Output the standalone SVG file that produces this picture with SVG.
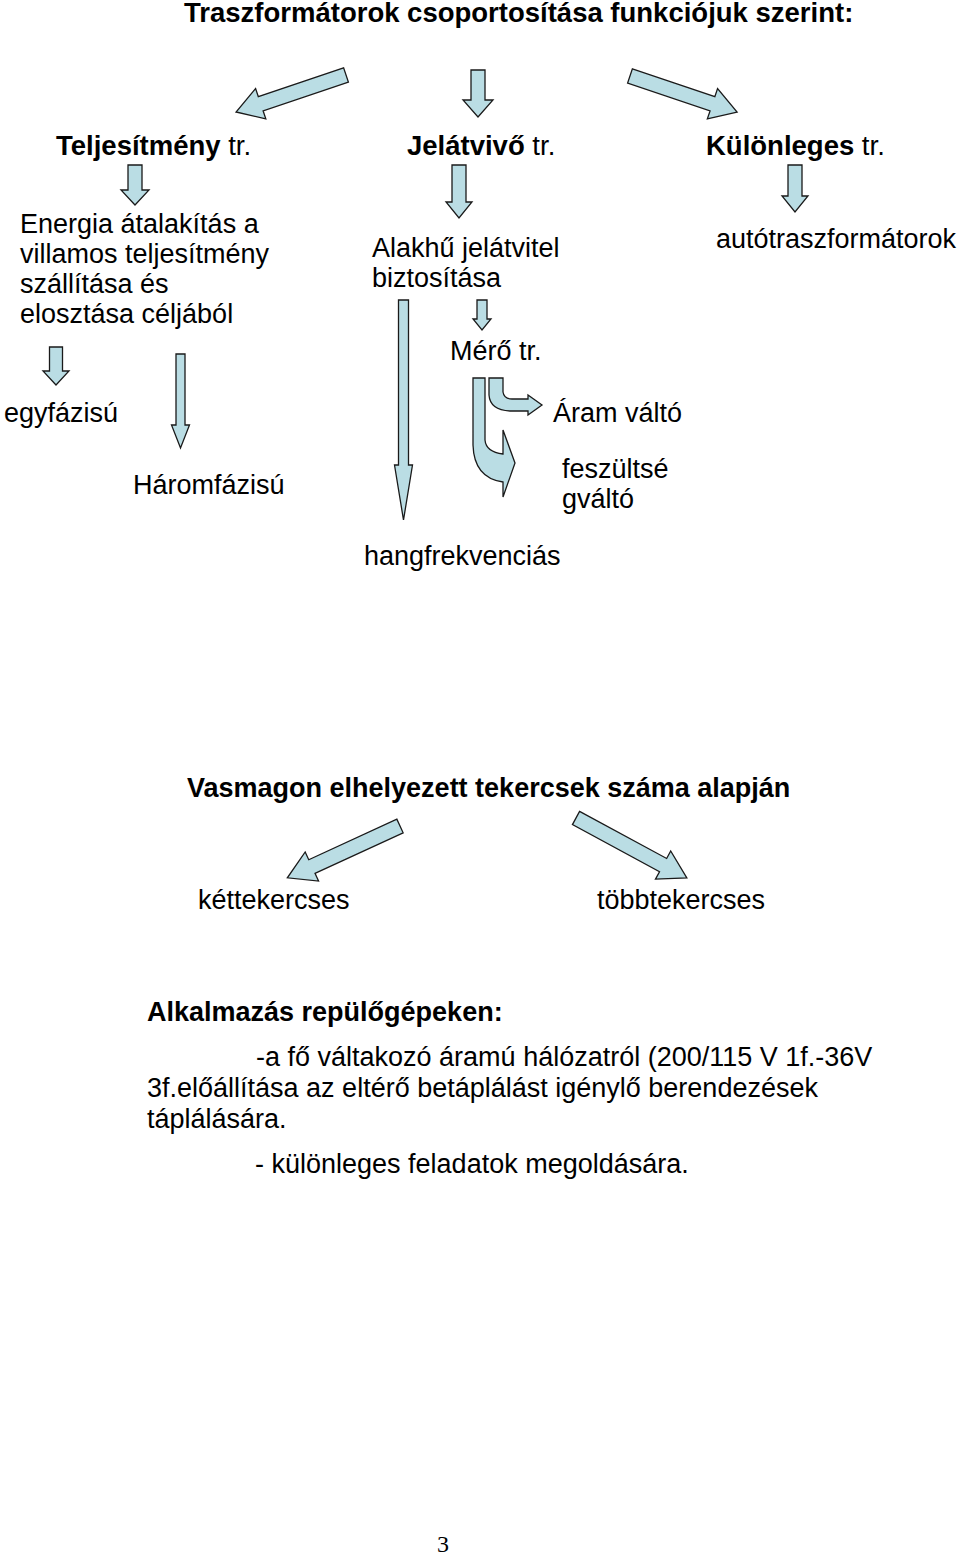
<svg xmlns="http://www.w3.org/2000/svg" width="960" height="1555" viewBox="0 0 960 1555">
<style>
text{font-family:"Liberation Sans",Arial,sans-serif;font-size:27px;fill:#000}
.b{font-weight:bold}
.L{font-size:27.5px}
.arr{fill:#BADDE4;stroke:#1a1a1a;stroke-width:1.3;stroke-linejoin:miter}
.pg{font-family:"Liberation Serif","Times New Roman",serif;font-size:24px}
</style>
<rect width="960" height="1555" fill="#fff"/>
<g id="connectors">
  <polygon class="arr" transform="translate(346,75) rotate(161.4)" points="0,-7.5 90,-7.5 90,-16 116,0 90,16 90,7.5 0,7.5"/>
  <polygon class="arr" points="471,70 485,70 485,100 493,100 478,117 463,100 471,100"/>
  <polygon class="arr" transform="translate(630,76) rotate(18.6)" points="0,-7.5 87,-7.5 87,-16 113,0 87,16 87,7.5 0,7.5"/>
  <polygon class="arr" points="128,165 142,165 142,190 149,190 135,205 121,190 128,190"/>
  <polygon class="arr" points="452,165 466,165 466,202 472,202 459,218 446,202 452,202"/>
  <polygon class="arr" points="788,165 802,165 802,196 808,196 795,212 782,196 788,196"/>
  <polygon class="arr" points="477,300 487,300 487,319 491,319 482,330 473,319 477,319"/>
  <polygon class="arr" points="49.5,347 62.5,347 62.5,371 69,371 56,385 43,371 49.5,371"/>
  <polygon class="arr" points="176,354 185,354 185,425 189.5,425 180.5,448 171.5,425 176,425"/>
  <polygon class="arr" points="398.5,300 408.5,300 408.5,465 412.5,465 403.5,520 394.5,465 398.5,465"/>
  <path class="arr" d="M473,378 L485,378 L485,440 Q486,452 503,454 L503,430 L515,463 L503,497 L503,482 Q474,478 473,445 Z"/>
  <path class="arr" d="M489,378 L503,378 L503,392 Q504,399 512,399 L528,399 L528,395 L542,405 L528,415 L528,411 L510,411 Q490,410 489,395 Z"/>
  <polygon class="arr" transform="translate(400,826) rotate(155.3)" points="0,-7.5 97,-7.5 97,-16 124,0 97,16 97,7.5 0,7.5"/>
  <polygon class="arr" transform="translate(576,818) rotate(28.4)" points="0,-7.5 99,-7.5 99,-16 126,0 99,16 99,7.5 0,7.5"/>
</g>
<g id="title"><text class="b L" x="184" y="22">Traszformátorok csoportosítása funkciójuk szerint:</text></g>
<g id="teljesitmeny"><text class="L" x="56" y="155"><tspan class="b">Teljesítmény</tspan> tr.</text></g>
<g id="jelatvivo"><text class="L" x="407" y="155"><tspan class="b">Jelátvivő</tspan> tr.</text></g>
<g id="kulonleges"><text class="L" x="706" y="155"><tspan class="b">Különleges</tspan> tr.</text></g>
<g id="energia">
  <text x="20" y="233">Energia átalakítás a</text>
  <text x="20" y="263">villamos teljesítmény</text>
  <text x="20" y="293">szállítása és</text>
  <text x="20" y="323">elosztása céljából</text>
</g>
<g id="alakhu">
  <text x="372" y="257">Alakhű jelátvitel</text>
  <text x="372" y="287">biztosítása</text>
</g>
<g id="auto"><text x="716" y="248">autótraszformátorok</text></g>
<g id="mero"><text x="450" y="360">Mérő tr.</text></g>
<g id="egyfazisu"><text x="4" y="422">egyfázisú</text></g>
<g id="haromfazisu"><text x="133" y="494">Háromfázisú</text></g>
<g id="aram"><text x="553" y="422">Áram váltó</text></g>
<g id="feszultseg">
  <text x="562" y="478">feszültsé</text>
  <text x="562" y="508">gváltó</text>
</g>
<g id="hangfrekvencias"><text x="364" y="565">hangfrekvenciás</text></g>
<g id="vasmagon"><text class="b" x="187" y="797">Vasmagon elhelyezett tekercsek száma alapján</text></g>
<g id="kettekercses"><text x="198" y="909">kéttekercses</text></g>
<g id="tobbtekercses"><text x="597" y="909">többtekercses</text></g>
<g id="alkalmazas">
  <text class="b" x="147" y="1021">Alkalmazás repülőgépeken:</text>
  <text x="256" y="1066">-a fő váltakozó áramú hálózatról (200/115 V 1f.-36V</text>
  <text x="147" y="1097">3f.előállítása az eltérő betáplálást igénylő berendezések</text>
  <text x="147" y="1128">táplálására.</text>
  <text x="255" y="1173">- különleges feladatok megoldására.</text>
</g>
<g id="page"><text class="pg" x="437" y="1552">3</text></g>
</svg>
